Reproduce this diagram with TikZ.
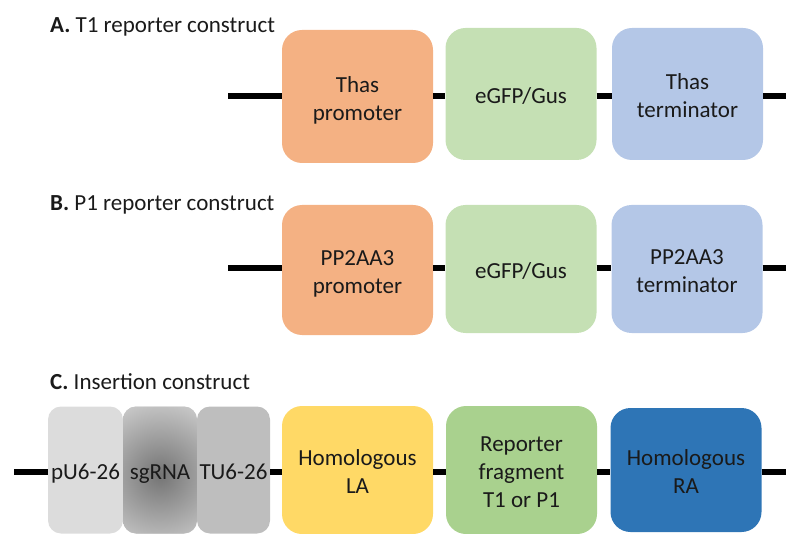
\documentclass[tikz,border=0pt]{standalone}
\usepackage{fontspec}
\setmainfont{Carlito}
\definecolor{orA}{HTML}{F4B183}
\definecolor{grA}{HTML}{C5E0B4}
\definecolor{blA}{HTML}{B4C7E7}
\definecolor{yeC}{HTML}{FFD966}
\definecolor{grC}{HTML}{A9D18E}
\definecolor{blC}{HTML}{2E75B6}
\definecolor{gr1}{HTML}{DCDCDC}
\definecolor{gr2in}{HTML}{747474}
\definecolor{gr2out}{HTML}{D2D2D2}
\definecolor{gr3}{HTML}{BEBEBE}
\definecolor{txt}{HTML}{1A1A1A}
\newcommand\bxt[1]{\raisebox{-4pt}[\height][\depth]{\begin{tabular}{@{}c@{}}#1\end{tabular}}}
\tikzset{
  blk/.style={rounded corners=20pt, inner sep=0pt, text=txt,
    minimum width=151pt, minimum height=132pt,
    font=\fontsize{23}{28}\selectfont},
  gblk/.style={rounded corners=13pt, inner sep=0pt, text=txt,
    minimum width=74pt, minimum height=127pt,
    font=\fontsize{23}{28}\selectfont},
  dna/.style={line width=5.5pt, black},
  head/.style={anchor=base west, inner sep=0pt, text=txt, font=\fontsize{23}{28}\selectfont}
}
\begin{document}
\begin{tikzpicture}[x=1pt,y=-1pt]
\useasboundingbox (0,0) rectangle (786,534);
% Headings
\node[head] (hA) at (50,33) {\textbf{A.} T1 reporter construct};
\node[head] (hB) at (50,211) {\textbf{B.} P1 reporter construct};
\node[head] (hC) at (50,389) {\textbf{C.} Insertion construct};
% Row A
\node[blk, fill=orA, minimum height=133pt] (tp) at (357.5,96.5) {\bxt{Thas\\promoter}};
\node[blk, fill=grA] (ga) at (521,94) {\bxt{eGFP/Gus}};
\node[blk, fill=blA] (tt) at (687.5,94) {\bxt{Thas\\terminator}};
\coordinate (aL) at (228,96);
\coordinate (aR) at (786,96);
\draw[dna] (aL) -- (tp.west |- aL);
\draw[dna] (tp.east |- aL) -- (ga.west |- aL);
\draw[dna] (ga.east |- aL) -- (tt.west |- aL);
\draw[dna] (tt.east |- aL) -- (aR);
% Row B
\node[blk, fill=orA, minimum height=130pt] (pp) at (357.5,270) {\bxt{PP2AA3\\promoter}};
\node[blk, fill=grA, minimum height=128pt] (gb) at (521,269) {\bxt{eGFP/Gus}};
\node[blk, fill=blA, minimum height=128pt] (pt) at (687,269) {\bxt{PP2AA3\\terminator}};
\coordinate (bL) at (228,268);
\coordinate (bR) at (786,268);
\draw[dna] (bL) -- (pp.west |- bL);
\draw[dna] (pp.east |- bL) -- (gb.west |- bL);
\draw[dna] (gb.east |- bL) -- (pt.west |- bL);
\draw[dna] (pt.east |- bL) -- (bR);
% Row C
\node[gblk, fill=gr1, minimum width=75pt] (pu) at (85.5,470) {\bxt{pU6-26}};
\node[gblk, fill=gr2out, path picture={
    \shade[inner color=gr2in, outer color=gr2out]
      ([yshift=-5pt]path picture bounding box.center) circle (84pt);}] (sg) at (160,470) {\bxt{sgRNA}};
\node[gblk, fill=gr3, minimum width=73pt] (tu) at (233.5,470) {\bxt{TU6-26}};
\node[blk, fill=yeC, minimum height=128pt] (la) at (357.5,470) {\bxt{Homologous\\LA}};
\node[blk, fill=grC, minimum height=128pt] (rf) at (521.5,470) {\bxt{Reporter\\fragment\\T1 or P1}};
\node[blk, fill=blC, minimum height=124pt] (ra) at (686,470) {\bxt{Homologous\\RA}};
\coordinate (cL) at (14,472);
\coordinate (cR) at (786,472);
\draw[dna] (cL) -- (pu.west |- cL);
\draw[dna] (tu.east |- cL) -- (la.west |- cL);
\draw[dna] (la.east |- cL) -- (rf.west |- cL);
\draw[dna] (rf.east |- cL) -- (ra.west |- cL);
\draw[dna] (ra.east |- cL) -- (cR);
\end{tikzpicture}
\end{document}
